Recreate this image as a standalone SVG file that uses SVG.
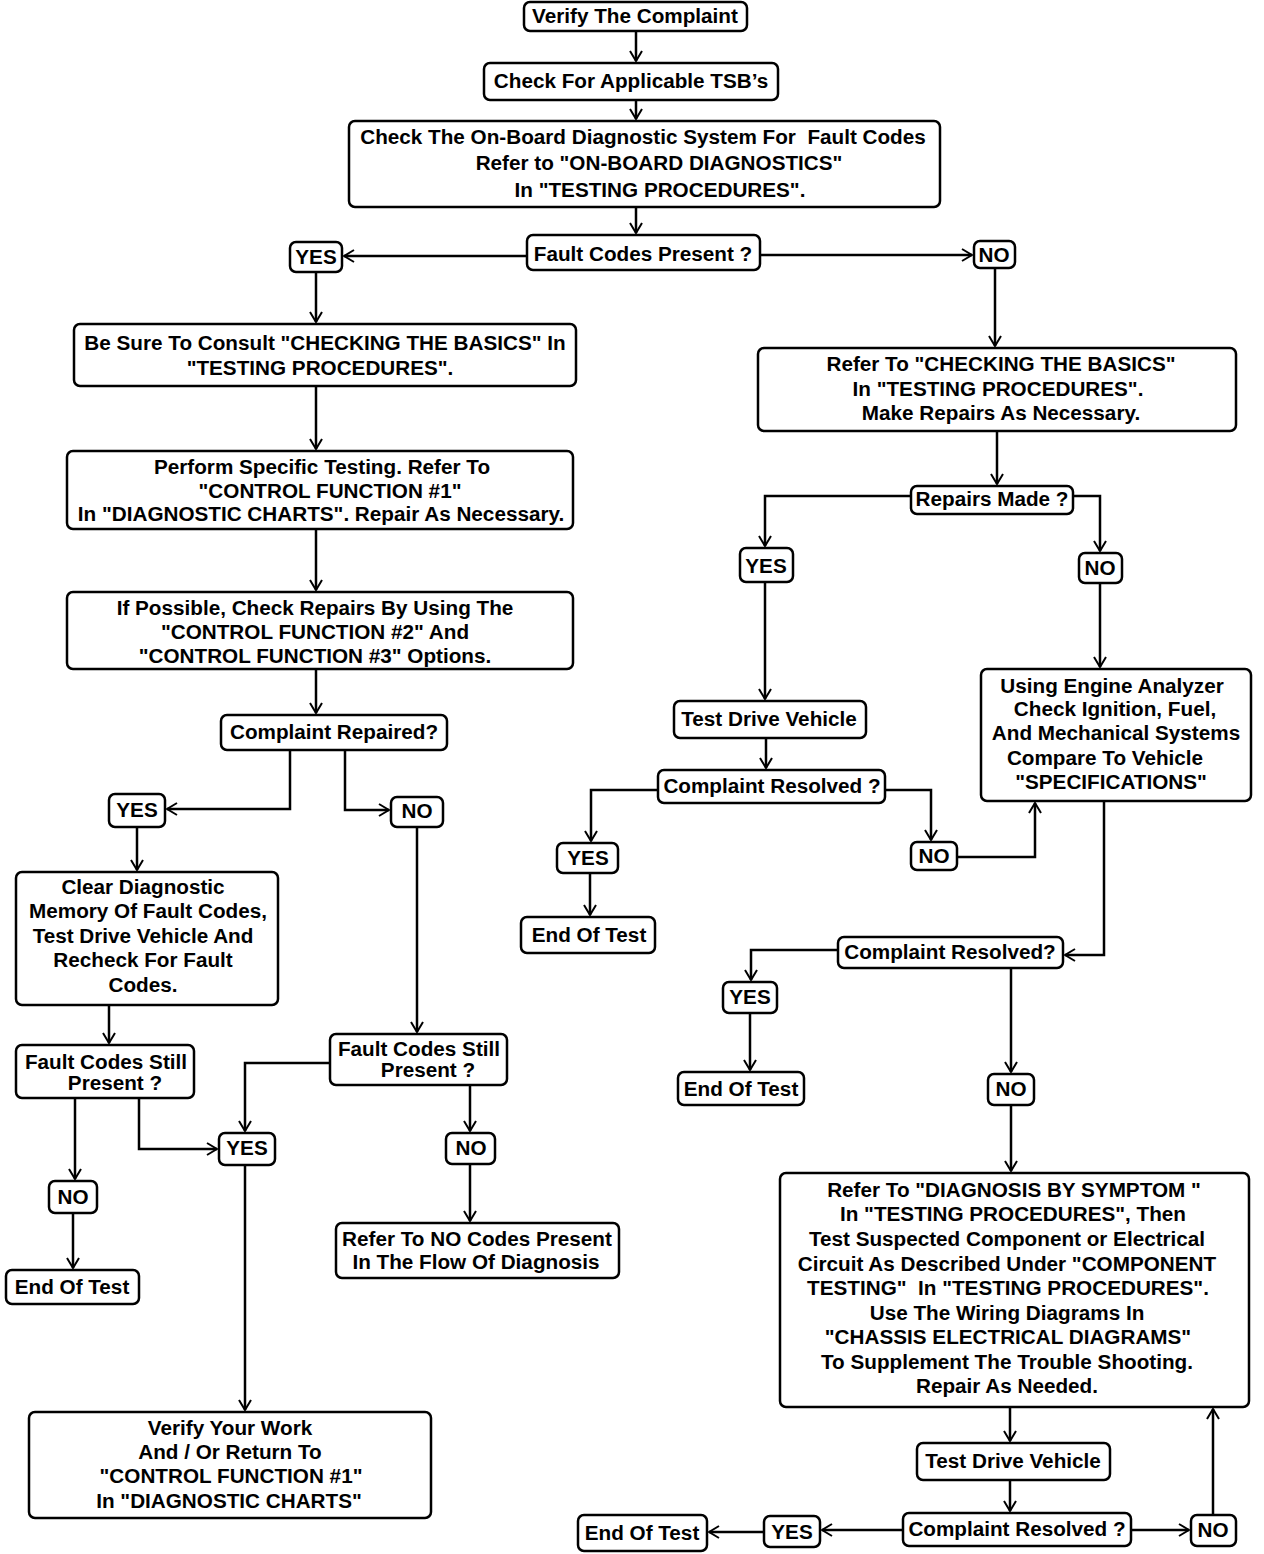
<svg xmlns="http://www.w3.org/2000/svg" width="1264" height="1554" viewBox="0 0 1264 1554">
<style>
rect{fill:#fff;stroke:#000;stroke-width:2.5}
text{font-family:"Liberation Sans",Arial,sans-serif;font-weight:bold;font-size:20.7px;text-anchor:middle;fill:#000}
.c path{fill:none;stroke:#000;stroke-width:2.5;marker-end:url(#a)}
</style>
<defs>
<marker id="a" viewBox="0 0 12 14" refX="11" refY="7" markerWidth="12" markerHeight="14" markerUnits="userSpaceOnUse" orient="auto">
<path d="M1,1 L11,7 L1,13" fill="none" stroke="#000" stroke-width="2"/>
</marker>
</defs>
<rect width="1264" height="1554" fill="#fff" style="stroke:none"/>
<g class="c" id="connectors">
<path d="M636,31 V61"/>
<path d="M636,100 V119"/>
<path d="M636,207 V233"/>
<path d="M527,256 H344"/>
<path d="M760,255 H972"/>
<path d="M316,272 V322"/>
<path d="M995,268 V346"/>
<path d="M316,386 V449"/>
<path d="M316,529 V590"/>
<path d="M316,669 V713"/>
<path d="M290,750 V809 H167"/>
<path d="M345,750 V810 H389"/>
<path d="M137,827 V870"/>
<path d="M417,827 V1032"/>
<path d="M109,1005 V1043"/>
<path d="M75,1098 V1179"/>
<path d="M139,1098 V1149 H217"/>
<path d="M330,1063 H245 V1131"/>
<path d="M470,1085 V1131"/>
<path d="M73,1213 V1268"/>
<path d="M470,1164 V1221"/>
<path d="M245,1165 V1410"/>
<path d="M997,431 V484"/>
<path d="M911,496 H765 V546"/>
<path d="M1073,496 H1100 V551"/>
<path d="M765,582 V699"/>
<path d="M1100,583 V667"/>
<path d="M766,738 V768"/>
<path d="M658,790 H591 V841"/>
<path d="M885,790 H931 V840"/>
<path d="M590,873 V915"/>
<path d="M957,857 H1035 V803"/>
<path d="M1104,801 V955 H1065"/>
<path d="M838,950 H751 V980"/>
<path d="M1011,968 V1072"/>
<path d="M750,1013 V1070"/>
<path d="M1011,1105 V1171"/>
<path d="M1010,1407 V1441"/>
<path d="M1010,1480 V1511"/>
<path d="M903,1530 H822"/>
<path d="M764,1532 H709"/>
<path d="M1131,1530 H1189"/>
<path d="M1213,1515 V1409"/>
</g>
<g id="n1"><rect x="524" y="2" width="223" height="29" rx="6"/><text x="635" y="23">Verify The Complaint</text></g>
<g id="n2"><rect x="484" y="63" width="294" height="37" rx="6"/><text x="631" y="88">Check For Applicable TSB’s</text></g>
<g id="n3"><rect x="349" y="121" width="591" height="86" rx="6"/><text x="643" y="144" xml:space="preserve">Check The On-Board Diagnostic System For  Fault Codes</text><text x="659" y="170">Refer to "ON-BOARD DIAGNOSTICS"</text><text x="660" y="197">In "TESTING PROCEDURES".</text></g>
<g id="n4"><rect x="527" y="235" width="233" height="35" rx="6"/><text x="643" y="261">Fault Codes Present ?</text></g>
<g id="n5"><rect x="290" y="242" width="52" height="30" rx="6"/><text x="316" y="264">YES</text></g>
<g id="n6"><rect x="974" y="241" width="41" height="27" rx="6"/><text x="994" y="262">NO</text></g>
<g id="n7"><rect x="74" y="324" width="502" height="62" rx="6"/><text x="325" y="350">Be Sure To Consult "CHECKING THE BASICS" In</text><text x="320" y="375">"TESTING PROCEDURES".</text></g>
<g id="n8"><rect x="758" y="348" width="478" height="83" rx="6"/><text x="1001" y="371">Refer To "CHECKING THE BASICS"</text><text x="998" y="396">In "TESTING PROCEDURES".</text><text x="1001" y="420">Make Repairs As Necessary.</text></g>
<g id="n9"><rect x="67" y="451" width="506" height="78" rx="6"/><text x="322" y="474">Perform Specific Testing. Refer To</text><text x="330" y="498">"CONTROL FUNCTION #1"</text><text x="321" y="521">In "DIAGNOSTIC CHARTS". Repair As Necessary.</text></g>
<g id="n10"><rect x="67" y="592" width="506" height="77" rx="6"/><text x="315" y="615">If Possible, Check Repairs By Using The</text><text x="315" y="639">"CONTROL FUNCTION #2" And</text><text x="315" y="663">"CONTROL FUNCTION #3" Options.</text></g>
<g id="n11"><rect x="221" y="715" width="226" height="35" rx="6"/><text x="334" y="739">Complaint Repaired?</text></g>
<g id="n12"><rect x="109" y="794" width="56" height="33" rx="6"/><text x="137" y="817">YES</text></g>
<g id="n13"><rect x="391" y="797" width="52" height="30" rx="6"/><text x="417" y="818">NO</text></g>
<g id="n14"><rect x="16" y="872" width="262" height="133" rx="6"/><text x="143" y="894">Clear Diagnostic</text><text x="148" y="918">Memory Of Fault Codes,</text><text x="143" y="943">Test Drive Vehicle And</text><text x="143" y="967">Recheck For Fault</text><text x="143" y="992">Codes.</text></g>
<g id="n15"><rect x="16" y="1045" width="178" height="53" rx="6"/><text x="106" y="1069">Fault Codes Still</text><text x="115" y="1090">Present ?</text></g>
<g id="n16"><rect x="330" y="1034" width="177" height="51" rx="6"/><text x="419" y="1056">Fault Codes Still</text><text x="428" y="1077">Present ?</text></g>
<g id="n17"><rect x="219" y="1133" width="56" height="32" rx="6"/><text x="247" y="1155">YES</text></g>
<g id="n18"><rect x="49" y="1181" width="48" height="32" rx="6"/><text x="73" y="1204">NO</text></g>
<g id="n19"><rect x="446" y="1133" width="49" height="31" rx="6"/><text x="471" y="1155">NO</text></g>
<g id="n20"><rect x="6" y="1270" width="133" height="34" rx="6"/><text x="72" y="1294">End Of Test</text></g>
<g id="n21"><rect x="336" y="1223" width="283" height="55" rx="6"/><text x="477" y="1246">Refer To NO Codes Present</text><text x="476" y="1269">In The Flow Of Diagnosis</text></g>
<g id="n22"><rect x="29" y="1412" width="402" height="106" rx="6"/><text x="230" y="1435">Verify Your Work</text><text x="230" y="1459">And / Or Return To</text><text x="231" y="1483">"CONTROL FUNCTION #1"</text><text x="229" y="1508">In "DIAGNOSTIC CHARTS"</text></g>
<g id="n23"><rect x="911" y="486" width="162" height="28" rx="6"/><text x="992" y="506">Repairs Made ?</text></g>
<g id="n24"><rect x="740" y="548" width="53" height="34" rx="6"/><text x="766" y="573">YES</text></g>
<g id="n25"><rect x="1079" y="553" width="43" height="30" rx="6"/><text x="1100" y="575">NO</text></g>
<g id="n26"><rect x="981" y="669" width="270" height="132" rx="6"/><text x="1112" y="693">Using Engine Analyzer</text><text x="1115" y="716">Check Ignition, Fuel,</text><text x="1116" y="740">And Mechanical Systems</text><text x="1105" y="765">Compare To Vehicle</text><text x="1111" y="789">"SPECIFICATIONS"</text></g>
<g id="n27"><rect x="674" y="701" width="192" height="37" rx="6"/><text x="769" y="726">Test Drive Vehicle</text></g>
<g id="n28"><rect x="658" y="770" width="227" height="33" rx="6"/><text x="772" y="793">Complaint Resolved ?</text></g>
<g id="n29"><rect x="557" y="843" width="61" height="30" rx="6"/><text x="588" y="865">YES</text></g>
<g id="n30"><rect x="911" y="842" width="46" height="28" rx="6"/><text x="934" y="863">NO</text></g>
<g id="n31"><rect x="521" y="917" width="134" height="36" rx="6"/><text x="589" y="942">End Of Test</text></g>
<g id="n32"><rect x="838" y="937" width="225" height="31" rx="6"/><text x="950" y="959">Complaint Resolved?</text></g>
<g id="n33"><rect x="723" y="982" width="54" height="31" rx="6"/><text x="750" y="1004">YES</text></g>
<g id="n34"><rect x="678" y="1072" width="126" height="33" rx="6"/><text x="741" y="1096">End Of Test</text></g>
<g id="n35"><rect x="988" y="1074" width="46" height="31" rx="6"/><text x="1011" y="1096">NO</text></g>
<g id="n36"><rect x="780" y="1173" width="469" height="234" rx="6"/><text x="1014" y="1197">Refer To "DIAGNOSIS BY SYMPTOM "</text><text x="1013" y="1221">In "TESTING PROCEDURES", Then</text><text x="1007" y="1246">Test Suspected Component or Electrical</text><text x="1007" y="1271">Circuit As Described Under "COMPONENT</text><text x="1008" y="1295" xml:space="preserve">TESTING"  In "TESTING PROCEDURES".</text><text x="1007" y="1320">Use The Wiring Diagrams In</text><text x="1008" y="1344">"CHASSIS ELECTRICAL DIAGRAMS"</text><text x="1007" y="1369">To Supplement The Trouble Shooting.</text><text x="1007" y="1393">Repair As Needed.</text></g>
<g id="n37"><rect x="917" y="1443" width="193" height="37" rx="6"/><text x="1013" y="1468">Test Drive Vehicle</text></g>
<g id="n38"><rect x="903" y="1513" width="228" height="33" rx="6"/><text x="1017" y="1536">Complaint Resolved ?</text></g>
<g id="n39"><rect x="764" y="1516" width="56" height="31" rx="6"/><text x="792" y="1539">YES</text></g>
<g id="n40"><rect x="578" y="1515" width="129" height="36" rx="6"/><text x="642" y="1540">End Of Test</text></g>
<g id="n41"><rect x="1191" y="1515" width="45" height="31" rx="6"/><text x="1213" y="1537">NO</text></g>
</svg>
